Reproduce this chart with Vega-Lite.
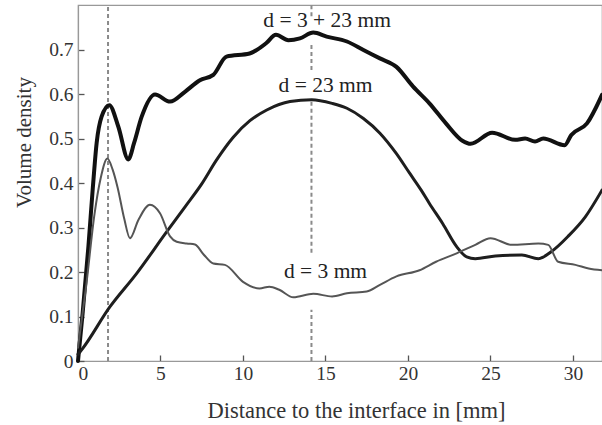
{
  "$schema": "https://vega.github.io/schema/vega-lite/v6.json",
  "width": 524,
  "height": 356,
  "autosize": "none",
  "padding": {"left": 78, "top": 5, "right": 0, "bottom": 64},
  "background": "white",
  "config": {
    "view": {"stroke": "#999", "strokeWidth": 1.2},
    "font": "Liberation Serif",
    "axis": {
      "grid": false,
      "domainColor": "#999",
      "domainWidth": 1.2,
      "tickColor": "#555",
      "tickWidth": 1.3,
      "tickSize": -6,
      "labelFont": "Liberation Serif",
      "labelFontSize": 19.5,
      "labelColor": "#333",
      "titleFont": "Liberation Serif",
      "titleFontSize": 21,
      "titleFontWeight": "normal",
      "titleColor": "#333"
    }
  },
  "datasets": {
    "curves": [
      {"s": "sum", "x": 0, "y": 0.0},
      {"s": "sum", "x": 0.28, "y": 0.107},
      {"s": "sum", "x": 0.63, "y": 0.257},
      {"s": "sum", "x": 0.9, "y": 0.39},
      {"s": "sum", "x": 1.13, "y": 0.49},
      {"s": "sum", "x": 1.43, "y": 0.549},
      {"s": "sum", "x": 1.9, "y": 0.575},
      {"s": "sum", "x": 2.44, "y": 0.527},
      {"s": "sum", "x": 3.05, "y": 0.453},
      {"s": "sum", "x": 3.4, "y": 0.49},
      {"s": "sum", "x": 3.86, "y": 0.549},
      {"s": "sum", "x": 4.67, "y": 0.599},
      {"s": "sum", "x": 5.58, "y": 0.583},
      {"s": "sum", "x": 6.48, "y": 0.605},
      {"s": "sum", "x": 7.39, "y": 0.631},
      {"s": "sum", "x": 8.2, "y": 0.643},
      {"s": "sum", "x": 9.0, "y": 0.684},
      {"s": "sum", "x": 10.4, "y": 0.691},
      {"s": "sum", "x": 11.4, "y": 0.714},
      {"s": "sum", "x": 12.0, "y": 0.733},
      {"s": "sum", "x": 12.75, "y": 0.721},
      {"s": "sum", "x": 13.45, "y": 0.725},
      {"s": "sum", "x": 14.26, "y": 0.738},
      {"s": "sum", "x": 15.07, "y": 0.729},
      {"s": "sum", "x": 16.3, "y": 0.718},
      {"s": "sum", "x": 17.3, "y": 0.699},
      {"s": "sum", "x": 18.3, "y": 0.68},
      {"s": "sum", "x": 19.3, "y": 0.661},
      {"s": "sum", "x": 20.3, "y": 0.617},
      {"s": "sum", "x": 21.3, "y": 0.579},
      {"s": "sum", "x": 22.3, "y": 0.534},
      {"s": "sum", "x": 23.3, "y": 0.495},
      {"s": "sum", "x": 23.8, "y": 0.488},
      {"s": "sum", "x": 25.1, "y": 0.513},
      {"s": "sum", "x": 26.5, "y": 0.497},
      {"s": "sum", "x": 27.1, "y": 0.5},
      {"s": "sum", "x": 27.7, "y": 0.493},
      {"s": "sum", "x": 28.2, "y": 0.5},
      {"s": "sum", "x": 29.5, "y": 0.485},
      {"s": "sum", "x": 29.9, "y": 0.508},
      {"s": "sum", "x": 30.85, "y": 0.534},
      {"s": "sum", "x": 31.76, "y": 0.598},

      {"s": "d23", "x": 0, "y": 0.015},
      {"s": "d23", "x": 0.22, "y": 0.025},
      {"s": "d23", "x": 1.94, "y": 0.122},
      {"s": "d23", "x": 3.56, "y": 0.197},
      {"s": "d23", "x": 5.37, "y": 0.29},
      {"s": "d23", "x": 6.5, "y": 0.347},
      {"s": "d23", "x": 7.5, "y": 0.398},
      {"s": "d23", "x": 8.4, "y": 0.452},
      {"s": "d23", "x": 9.41, "y": 0.503},
      {"s": "d23", "x": 10.42, "y": 0.540},
      {"s": "d23", "x": 11.44, "y": 0.564},
      {"s": "d23", "x": 12.85, "y": 0.583},
      {"s": "d23", "x": 14.16, "y": 0.587},
      {"s": "d23", "x": 15.4, "y": 0.579},
      {"s": "d23", "x": 16.3, "y": 0.568},
      {"s": "d23", "x": 17.3, "y": 0.545},
      {"s": "d23", "x": 18.3, "y": 0.512},
      {"s": "d23", "x": 19.3, "y": 0.466},
      {"s": "d23", "x": 20.1, "y": 0.422},
      {"s": "d23", "x": 20.8, "y": 0.384},
      {"s": "d23", "x": 21.3, "y": 0.354},
      {"s": "d23", "x": 22.1, "y": 0.309},
      {"s": "d23", "x": 22.95, "y": 0.257},
      {"s": "d23", "x": 23.56, "y": 0.234},
      {"s": "d23", "x": 24.08, "y": 0.23},
      {"s": "d23", "x": 25.3, "y": 0.236},
      {"s": "d23", "x": 26.9, "y": 0.238},
      {"s": "d23", "x": 27.9, "y": 0.23},
      {"s": "d23", "x": 28.7, "y": 0.246},
      {"s": "d23", "x": 29.7, "y": 0.28},
      {"s": "d23", "x": 30.75, "y": 0.324},
      {"s": "d23", "x": 31.76, "y": 0.384},

      {"s": "d3", "x": 0, "y": 0.03},
      {"s": "d3", "x": 0.5, "y": 0.17},
      {"s": "d3", "x": 1.0, "y": 0.33},
      {"s": "d3", "x": 1.37, "y": 0.41},
      {"s": "d3", "x": 1.78, "y": 0.455},
      {"s": "d3", "x": 2.1, "y": 0.43},
      {"s": "d3", "x": 2.4, "y": 0.39},
      {"s": "d3", "x": 2.8, "y": 0.32},
      {"s": "d3", "x": 3.15, "y": 0.276},
      {"s": "d3", "x": 3.66, "y": 0.317},
      {"s": "d3", "x": 4.36, "y": 0.351},
      {"s": "d3", "x": 4.97, "y": 0.332},
      {"s": "d3", "x": 5.58, "y": 0.28},
      {"s": "d3", "x": 5.98, "y": 0.268},
      {"s": "d3", "x": 6.59, "y": 0.264},
      {"s": "d3", "x": 7.09, "y": 0.262},
      {"s": "d3", "x": 7.6, "y": 0.24},
      {"s": "d3", "x": 8.2, "y": 0.219},
      {"s": "d3", "x": 8.9, "y": 0.216},
      {"s": "d3", "x": 10.0, "y": 0.178},
      {"s": "d3", "x": 11.0, "y": 0.163},
      {"s": "d3", "x": 11.6, "y": 0.167},
      {"s": "d3", "x": 12.2, "y": 0.16},
      {"s": "d3", "x": 13.05, "y": 0.143},
      {"s": "d3", "x": 14.26, "y": 0.151},
      {"s": "d3", "x": 15.4, "y": 0.145},
      {"s": "d3", "x": 16.3, "y": 0.152},
      {"s": "d3", "x": 17.5, "y": 0.156},
      {"s": "d3", "x": 18.3, "y": 0.171},
      {"s": "d3", "x": 19.3, "y": 0.19},
      {"s": "d3", "x": 20.7, "y": 0.204},
      {"s": "d3", "x": 21.7, "y": 0.223},
      {"s": "d3", "x": 22.95, "y": 0.242},
      {"s": "d3", "x": 24.08, "y": 0.261},
      {"s": "d3", "x": 25.0, "y": 0.276},
      {"s": "d3", "x": 26.3, "y": 0.261},
      {"s": "d3", "x": 27.9, "y": 0.264},
      {"s": "d3", "x": 28.5, "y": 0.261},
      {"s": "d3", "x": 29.1, "y": 0.223},
      {"s": "d3", "x": 30.15, "y": 0.216},
      {"s": "d3", "x": 30.95, "y": 0.208},
      {"s": "d3", "x": 31.76, "y": 0.204}
    ],
    "rules": [
      {"x": 1.82, "y": 0, "y2": 0.8},
      {"x": 14.15, "y": 0, "y2": 0.115},
      {"x": 14.15, "y": 0.243, "y2": 0.587},
      {"x": 14.15, "y": 0.654, "y2": 0.715},
      {"x": 14.15, "y": 0.775, "y2": 0.8}
    ],
    "labels": [
      {"t": "d = 3 + 23 mm", "x": 15.1, "y": 0.764},
      {"t": "d = 23 mm", "x": 15.0, "y": 0.618},
      {"t": "d = 3 mm", "x": 15.0, "y": 0.2}
    ]
  },
  "layer": [
    {
      "data": {"name": "rules"},
      "mark": {"type": "rule", "color": "#8a8a8a", "strokeWidth": 2, "strokeDash": [4, 3]},
      "encoding": {
        "x": {"field": "x", "type": "quantitative", "scale": {"domain": [0, 31.76], "nice": false, "zero": false},
          "axis": {"values": [0, 5, 10, 15, 20, 25, 30], "title": "Distance to the interface in [mm]", "titleFontSize": 22.5, "titleX": 278, "titleY": 56, "titleBaseline": "alphabetic", "labelPadding": 9}},
        "y": {"field": "y", "type": "quantitative", "scale": {"domain": [0, 0.8], "nice": false},
          "axis": {"values": [0, 0.1, 0.2, 0.3, 0.4, 0.5, 0.6, 0.7], "labelExpr": "datum.value == 0 ? '0' : format(datum.value, '.1f')", "title": "Volume density", "titleX": -48, "titleY": 137, "titleBaseline": "alphabetic", "titleAlign": "center", "labelPadding": 11}},
        "y2": {"field": "y2"}
      }
    },
    {
      "data": {"name": "curves"},
      "mark": {"type": "line", "interpolate": "monotone", "strokeJoin": "round", "strokeCap": "round"},
      "encoding": {
        "x": {"field": "x", "type": "quantitative"},
        "y": {"field": "y", "type": "quantitative"},
        "detail": {"field": "s"},
        "color": {"field": "s", "type": "nominal", "scale": {"domain": ["sum", "d23", "d3"], "range": ["#111111", "#1e1e1e", "#555555"]}, "legend": null},
        "strokeWidth": {"field": "s", "type": "nominal", "scale": {"domain": ["sum", "d23", "d3"], "range": [4, 2, 1.1]}, "legend": null}
      }
    },
    {
      "data": {"name": "labels"},
      "mark": {"type": "text", "font": "Liberation Serif", "fontSize": 21.5, "color": "#222", "align": "center", "baseline": "middle"},
      "encoding": {
        "x": {"field": "x", "type": "quantitative"},
        "y": {"field": "y", "type": "quantitative"},
        "text": {"field": "t"}
      }
    }
  ]
}
